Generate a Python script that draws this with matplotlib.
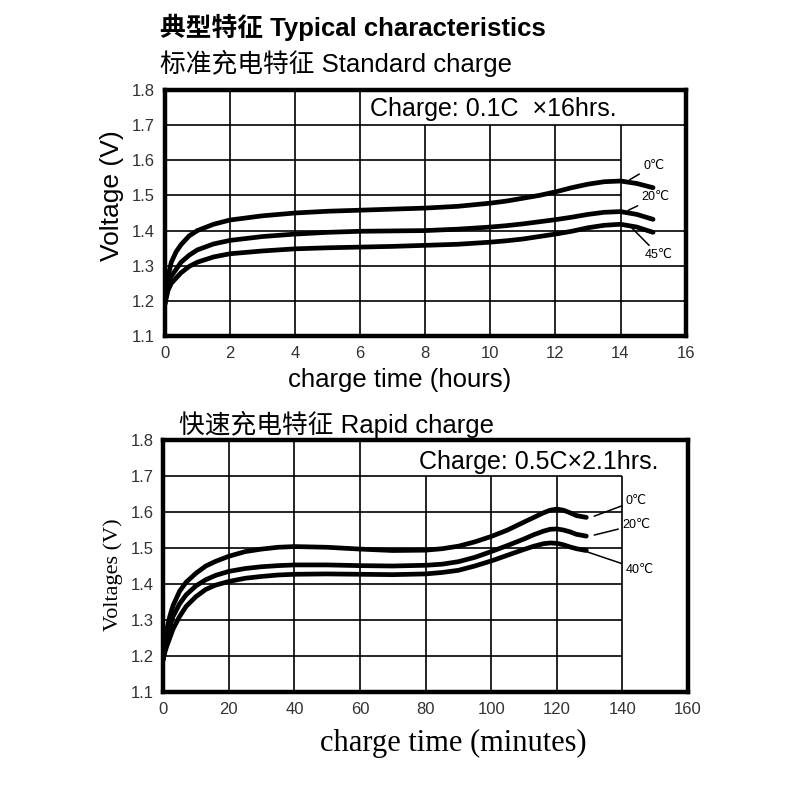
import matplotlib
matplotlib.use("Agg")
import matplotlib.pyplot as plt

# ---- standard charge (hours) ----
std_t = [0, 0.1, 0.2, 0.35, 0.5, 0.75, 1, 1.5, 2, 3, 4, 5, 6, 7, 8, 9, 10, 10.5, 11, 11.5,
         12, 12.5, 13, 13.5, 14, 14.5, 15]
std_0c = [1.19, 1.27, 1.31, 1.34, 1.36, 1.385, 1.40, 1.418, 1.43, 1.442, 1.45, 1.455, 1.458, 1.461,
          1.464, 1.469, 1.478, 1.484, 1.492, 1.50, 1.51, 1.522, 1.532, 1.539, 1.541, 1.534, 1.522]
std_20c = [1.19, 1.25, 1.27, 1.29, 1.31, 1.33, 1.345, 1.362, 1.372, 1.383, 1.39, 1.395, 1.398, 1.399,
           1.40, 1.404, 1.41, 1.414, 1.419, 1.425, 1.431, 1.438, 1.446, 1.452, 1.454, 1.446, 1.432]
std_45c = [1.19, 1.23, 1.25, 1.265, 1.28, 1.298, 1.31, 1.325, 1.334, 1.342, 1.348, 1.351, 1.353, 1.355,
           1.358, 1.361, 1.367, 1.371, 1.376, 1.383, 1.39, 1.398, 1.408, 1.415, 1.418, 1.41, 1.395]

# ---- rapid charge (minutes) ----
rap_t = [0, 0.5, 1, 2, 3, 5, 7, 10, 13, 16, 20, 25, 30, 35, 40, 50, 60, 70, 80, 85, 90, 95,
         100, 105, 110, 113, 116, 118, 120, 122, 124, 126, 129]
rap_0c = [1.19, 1.24, 1.27, 1.31, 1.34, 1.38, 1.405, 1.43, 1.45, 1.463, 1.477, 1.49, 1.497, 1.502,
          1.504, 1.502, 1.497, 1.493, 1.494, 1.498, 1.505, 1.517, 1.532, 1.55, 1.572, 1.585, 1.598,
          1.605, 1.608, 1.605, 1.598, 1.59, 1.585]
rap_20c = [1.19, 1.22, 1.245, 1.28, 1.31, 1.345, 1.37, 1.395, 1.412, 1.424, 1.435, 1.443, 1.448, 1.451,
           1.453, 1.453, 1.451, 1.45, 1.452, 1.455, 1.462, 1.474, 1.49, 1.507, 1.525, 1.537, 1.547,
           1.552, 1.553, 1.55, 1.545, 1.538, 1.533]
rap_40c = [1.19, 1.21, 1.225, 1.25, 1.275, 1.31, 1.338, 1.365, 1.385, 1.397, 1.407, 1.416, 1.421, 1.425,
           1.427, 1.428, 1.427, 1.426, 1.428, 1.432, 1.438, 1.45, 1.464, 1.48, 1.496, 1.505, 1.512,
           1.514, 1.513, 1.509, 1.503, 1.498, 1.493]

yticks = [1.1, 1.2, 1.3, 1.4, 1.5, 1.6, 1.7, 1.8]
std_xticks = [0, 2, 4, 6, 8, 10, 12, 14, 16]
rap_xticks = [0, 20, 40, 60, 80, 100, 120, 140, 160]

sans = ['Liberation Sans', 'Noto Sans CJK SC', 'DejaVu Sans']
serif = ['Liberation Serif', 'DejaVu Serif']
lab_font = ['Liberation Sans', 'DejaVu Sans']

fig = plt.figure(figsize=(8, 8), dpi=100)


def frame(ax):
    for s in ax.spines.values():
        s.set_linewidth(3.2)
        s.set_color('black')
    ax.tick_params(length=0, pad=7, labelsize=12, labelcolor='#333333')
    for lab in ax.get_xticklabels() + ax.get_yticklabels():
        lab.set_family(sans)


def tag(ax, text, xy, xytext):
    ax.annotate(text, xy=xy, xytext=xytext, fontsize=9, family=lab_font, va='center',
                arrowprops=dict(arrowstyle='-', lw=1.1, color='black', shrinkA=1, shrinkB=1))


# top chart
ax1 = fig.add_axes([0.206, 0.58, 0.651, 0.3075])
ax1.set_xlim(0, 16)
ax1.set_ylim(1.1, 1.8)
ax1.set_xticks(std_xticks)
ax1.set_yticks(yticks)
ax1.set_yticklabels(['%.1f' % v for v in yticks])
ax1.vlines([2, 4, 6], 1.1, 1.8, color='black', lw=1.2)
ax1.vlines([8, 10, 12, 14], 1.1, 1.7, color='black', lw=1.2)
ax1.hlines([1.2, 1.3, 1.4, 1.7], 0, 16, color='black', lw=1.2)
ax1.hlines([1.5, 1.6], 0, 14, color='black', lw=1.2)
for y in (std_0c, std_20c, std_45c):
    ax1.plot(std_t, y, color='black', lw=3.4, solid_capstyle='round', solid_joinstyle='round')
ax1.text(6.3, 1.745, 'Charge: 0.1C  \u00d716hrs.', fontsize=18, family=sans, va='center')
tag(ax1, '0\u2103', (14.25, 1.543), (14.7, 1.585))
tag(ax1, '20\u2103', (14.2, 1.456), (14.65, 1.495))
tag(ax1, '45\u2103', (14.3, 1.412), (14.75, 1.33))
ax1.set_xlabel('charge time (hours)', fontsize=18.5, family=sans)
ax1.xaxis.set_label_coords(0.45, -0.18)
ax1.xaxis.label.set_va('center')
ax1.set_ylabel('Voltage (V)', fontsize=19, family=sans)
ax1.yaxis.set_label_coords(-0.102, 0.57)
ax1.yaxis.label.set_va('center')
frame(ax1)

# bottom chart
ax2 = fig.add_axes([0.204, 0.135, 0.656, 0.315])
ax2.set_xlim(0, 160)
ax2.set_ylim(1.1, 1.8)
ax2.set_xticks(rap_xticks)
ax2.set_yticks(yticks)
ax2.set_yticklabels(['%.1f' % v for v in yticks])
ax2.vlines([20, 40, 60], 1.1, 1.8, color='black', lw=1.2)
ax2.vlines([80, 100, 120, 140], 1.1, 1.7, color='black', lw=1.2)
ax2.hlines([1.2, 1.3, 1.4, 1.5, 1.6, 1.7], 0, 140, color='black', lw=1.2)
for y in (rap_0c, rap_20c, rap_40c):
    ax2.plot(rap_t, y, color='black', lw=3.4, solid_capstyle='round', solid_joinstyle='round')
ax2.text(151, 1.74, 'Charge: 0.5C\u00d72.1hrs.', fontsize=18, family=sans, va='center', ha='right')
tag(ax2, '0\u2103', (131, 1.587), (141, 1.632))
tag(ax2, '20\u2103', (131, 1.535), (140, 1.565))
tag(ax2, '40\u2103', (129, 1.49), (141, 1.44))
ax2.set_xlabel('charge time (minutes)', fontsize=22, family=serif)
ax2.xaxis.set_label_coords(0.552, -0.205)
ax2.xaxis.label.set_va('center')
ax2.set_ylabel('Voltages (V)', fontsize=16, family=serif)
ax2.yaxis.set_label_coords(-0.095, 0.464)
ax2.yaxis.label.set_va('center')
frame(ax2)

fig.text(0.2, 0.966, '典型特征 Typical characteristics', fontsize=18.5, fontweight='bold',
         family=sans, va='center')
fig.text(0.2, 0.921, '标准充电特征 Standard charge', fontsize=18.5, family=sans, va='center')
fig.text(0.224, 0.469, '快速充电特征 Rapid charge', fontsize=18.5, family=sans, va='center')

fig.savefig('out.png', dpi=100, facecolor='white')
